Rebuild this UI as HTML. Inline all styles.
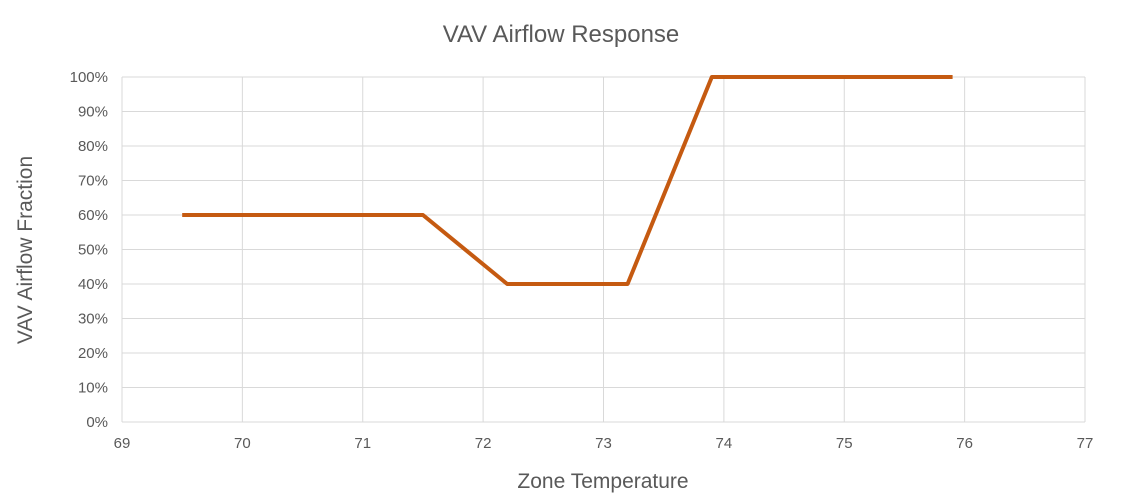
<!DOCTYPE html>
<html><head><meta charset="utf-8"><style>
html,body{margin:0;padding:0;background:#fff;}
svg{display:block;font-family:"Liberation Sans",sans-serif;}
</style></head><body>
<svg id="chart" width="1121" height="499">
<text x="561" y="42" text-anchor="middle" font-size="24" fill="#595959">VAV Airflow Response</text>
<g id="grid"></g>
<g id="yticks"></g>
<g id="xticks"></g>
<text x="0" y="0" transform="translate(32,250) rotate(-90)" text-anchor="middle" font-size="21" fill="#595959">VAV Airflow Fraction</text>
<text x="603" y="488" text-anchor="middle" font-size="21" fill="#595959">Zone Temperature</text>
<g id="series"></g>
</svg>
<script>
const xTicks=[69,70,71,72,73,74,75,76,77];
const yTicks=[0,10,20,30,40,50,60,70,80,90,100];
const temps=[69.5,71.5,72.2,73.2,73.9,75.9];
const airflow=[60,60,40,40,100,100];
const NS="http://www.w3.org/2000/svg";
const x0=122,x1=1085,y0=422,y1=77;
const sx=v=>x0+(v-69)/(77-69)*(x1-x0);
const sy=v=>y0-v/100*(y0-y1);
function mk(t,a,p){const e=document.createElementNS(NS,t);for(const k in a)e.setAttribute(k,a[k]);p.appendChild(e);return e;}
const grid=document.getElementById('grid'),yt=document.getElementById('yticks'),xt=document.getElementById('xticks'),ser=document.getElementById('series');
yTicks.forEach(v=>{
 const l=mk('line',{x1:x0,x2:x1,y1:sy(v),y2:sy(v),stroke:'#d9d9d9','stroke-width':1},grid);
 
 
 const t=mk('text',{x:x0-14,y:sy(v)+5,'text-anchor':'end','font-size':15,fill:'#595959'},yt);
 t.textContent=v+'%';
 
 
});
xTicks.forEach(v=>{
 const l=mk('line',{x1:sx(v),x2:sx(v),y1:y1,y2:y0,stroke:'#d9d9d9','stroke-width':1},grid);
 
 
 const t=mk('text',{x:sx(v),y:y0+26,'text-anchor':'middle','font-size':15,fill:'#595959'},xt);
 t.textContent=v;
 
 
});
const pts=temps.map((t,i)=>sx(t)+','+sy(airflow[i])).join(' ');
const pl=mk('polyline',{points:pts,fill:'none',stroke:'#c55a11','stroke-width':4,'stroke-linejoin':'round'},ser);


</script>
</body></html>
